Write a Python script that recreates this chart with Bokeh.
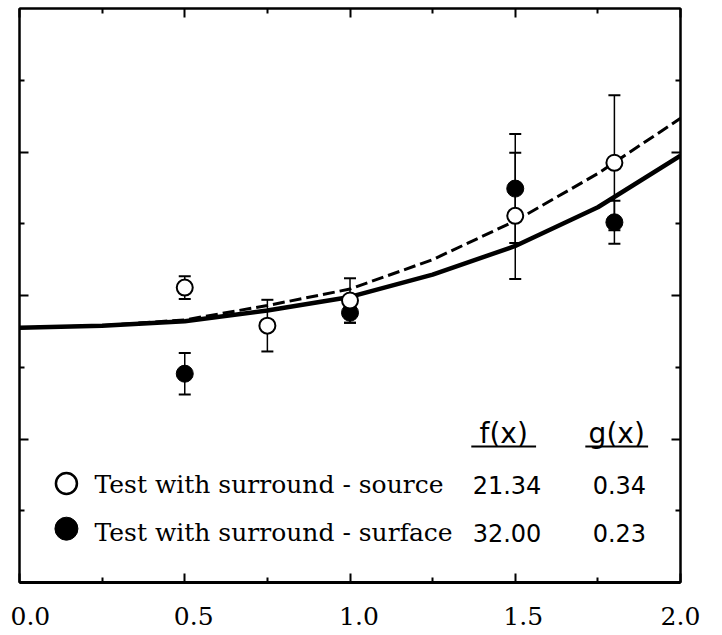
from bokeh.plotting import figure
from bokeh.models import (Range1d, LinearAxis, FixedTicker, Whisker, TeeHead,
                          ColumnDataSource, CustomJSTickFormatter)
from bokeh.core.properties import value
from bokeh.embed import file_html
from bokeh.resources import INLINE

# ---- data ----
curve_x = [0.0, 0.25, 0.5, 0.75, 1.0, 1.25, 1.5, 1.75, 2.0]
solid_curve = [3.55, 3.58, 3.64, 3.79, 3.98, 4.29, 4.69, 5.23, 5.95]
dashed_curve = [3.55, 3.58, 3.66, 3.86, 4.09, 4.50, 5.04, 5.70, 6.47]

source_x = [0.5, 0.75, 1.0, 1.5, 1.8]
source_y = [4.11, 3.58, 3.93, 5.11, 5.85]
source_err = [0.16, 0.36, 0.31, 0.88, 0.94]

surface_x = [0.5, 1.0, 1.5, 1.8]
surface_y = [2.91, 3.76, 5.49, 5.02]
surface_err = [0.29, 0.14, 0.76, 0.30]

x_ticks = [0.0, 0.5, 1.0, 1.5, 2.0]
x_tick_labels = ["0.0", "0.5", "1.0", "1.5", "2.0"]
x_minor = [0.25, 0.75, 1.25, 1.75]
y_ticks = [2, 4, 6]
y_minor = [1, 3, 5, 7]

legend_labels = ["Test with surround - source", "Test with surround - surface"]
headers = ["f(x)", "g(x)"]
f_values = ["21.34", "32.00"]
g_values = ["0.34", "0.23"]

# ---- layout constants (data units) ----
label_nudge = [0.033, 0.027, 0.027, 0.024, 0.0]   # tick labels sit a bit right of ticks
row_y = [1.365, 0.695]
marker_y = [1.38, 0.75]
marker_x = 0.142
label_x = 0.227
f_col_x = 1.475
g_col_x = 1.815
header_y = 2.07
underline_y = 1.895
underline_half = [0.098, 0.095]

p = figure(width=722, height=635, x_range=Range1d(0, 2), y_range=Range1d(0, 8),
           output_backend="svg", toolbar_location=None,
           min_border_left=19, min_border_right=42, min_border_top=8, min_border_bottom=53)
p.background_fill_color = "white"
p.border_fill_color = "white"
p.xgrid.visible = False
p.ygrid.visible = False
p.outline_line_color = "black"
p.outline_line_width = 2

blank = CustomJSTickFormatter(code="return ''")

def style_axis(ax):
    ax.major_tick_in = 9
    ax.major_tick_out = 0
    ax.minor_tick_in = 5
    ax.minor_tick_out = 0
    ax.major_tick_line_width = 2
    ax.minor_tick_line_width = 2
    ax.major_tick_line_color = "black"
    ax.minor_tick_line_color = "black"
    ax.axis_line_color = "black"
    ax.axis_line_width = 2
    ax.formatter = blank
    ax.major_label_standoff = 0
    ax.major_label_text_font_size = "1px"

p.xaxis.ticker = FixedTicker(ticks=x_ticks, minor_ticks=x_minor)
style_axis(p.xaxis[0])
p.xaxis.axis_line_width = 3

p.yaxis.ticker = FixedTicker(ticks=y_ticks, minor_ticks=y_minor)
style_axis(p.yaxis[0])

top = LinearAxis(ticker=FixedTicker(ticks=x_ticks, minor_ticks=x_minor))
style_axis(top)
p.add_layout(top, "above")
right = LinearAxis(ticker=FixedTicker(ticks=y_ticks, minor_ticks=y_minor))
style_axis(right)
p.add_layout(right, "right")

# tick-label axis (labels only, nudged right like the reference)
label_pos = [t + d for t, d in zip(x_ticks, label_nudge)]
lab_axis = LinearAxis(ticker=FixedTicker(ticks=label_pos, minor_ticks=[]),
                      formatter=CustomJSTickFormatter(args=dict(labels=x_tick_labels),
                                                      code="return labels[index]"))
lab_axis.axis_line_color = None
lab_axis.major_tick_line_color = None
lab_axis.minor_tick_line_color = None
lab_axis.major_tick_in = 0
lab_axis.major_tick_out = 0
lab_axis.major_label_standoff = 24
lab_axis.major_label_text_font = "DejaVu Serif"
lab_axis.major_label_text_font_size = "25px"
lab_axis.major_label_text_color = "black"
p.add_layout(lab_axis, "below")

# curves
p.line(curve_x, solid_curve, line_color="black", line_width=4.5)
p.line(curve_x, dashed_curve, line_color="black", line_width=3, line_dash="12 5")

# error bars
src_open = ColumnDataSource(dict(x=source_x, y=source_y,
                                 lo=[a - b for a, b in zip(source_y, source_err)],
                                 hi=[a + b for a, b in zip(source_y, source_err)]))
src_fill = ColumnDataSource(dict(x=surface_x, y=surface_y,
                                 lo=[a - b for a, b in zip(surface_y, surface_err)],
                                 hi=[a + b for a, b in zip(surface_y, surface_err)]))
for s in (src_open, src_fill):
    w = Whisker(source=s, base="x", upper="hi", lower="lo", dimension="height",
                line_color="black", line_width=1.5,
                upper_head=TeeHead(size=12, line_width=2, line_color="black"),
                lower_head=TeeHead(size=12, line_width=2, line_color="black"))
    p.add_layout(w)

p.scatter("x", "y", source=src_fill, size=17, marker="circle",
          fill_color="black", line_color="black")
p.scatter("x", "y", source=src_open, size=16, marker="circle",
          fill_color="white", line_color="black", line_width=2)

# in-plot legend
p.scatter([marker_x], [marker_y[0]], size=21, marker="circle",
          fill_color="white", line_color="black", line_width=2.5)
p.scatter([marker_x], [marker_y[1]], size=23, marker="circle",
          fill_color="black", line_color="black")
p.text([label_x, label_x], row_y, text=legend_labels, text_align="left",
       text_baseline="alphabetic", text_font=value("DejaVu Serif"),
       text_font_size="25px", text_color="black")
p.text([f_col_x, f_col_x], row_y, text=f_values, text_align="center",
       text_baseline="alphabetic", text_font=value("DejaVu Sans"),
       text_font_size="24px", text_color="black")
p.text([g_col_x, g_col_x], row_y, text=g_values, text_align="center",
       text_baseline="alphabetic", text_font=value("DejaVu Sans"),
       text_font_size="24px", text_color="black")
hx = [f_col_x - 0.01, g_col_x - 0.008]
p.text(hx, [header_y, header_y], text=headers, text_align="center",
       text_baseline="alphabetic", text_font=value("DejaVu Sans"),
       text_font_size="28px", text_color="black")
p.segment(x0=[c - h for c, h in zip(hx, underline_half)], y0=[underline_y] * 2,
          x1=[c + h for c, h in zip(hx, underline_half)], y1=[underline_y] * 2,
          line_color="black", line_width=2)

open("out.html", "w").write(file_html(p, INLINE))
